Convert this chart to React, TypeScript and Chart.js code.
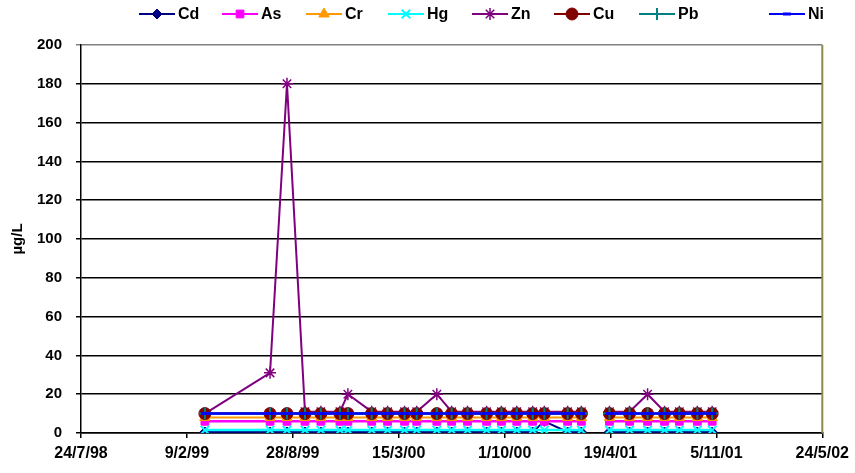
import React, { useEffect, useRef } from "react";
import { Chart, registerables } from "chart.js";
import { drawPoint } from "chart.js/helpers";

Chart.register(...registerables);

// ---- Data ----
const sampleDates = [
  "1999-03-15", "1999-07-16", "1999-08-17", "1999-09-20", "1999-10-20", "1999-11-25", "1999-12-10",
  "2000-01-24", "2000-02-23", "2000-03-26", "2000-04-18", "2000-05-26", "2000-06-23", "2000-07-23",
  "2000-08-28", "2000-09-25", "2000-10-24", "2000-11-23", "2000-12-15", "2001-01-28", "2001-02-23",
  "2001-03-20",
  "2001-04-17", "2001-05-25", "2001-06-28", "2001-07-30", "2001-08-27", "2001-09-30", "2001-10-28",
];

const cdValues = [0.5, 0.5, 0.5, 0.5, 0.5, 0.5, 0.5, 0.5, 0.5, 0.5, 0.5, 0.5, 0.5, 0.5, 0.5, 0.5, 0.5, 0.5, 6, 0.5, 0.5, null, 0.5, 0.5, 0.5, 0.5, 0.5, 0.5, 0.5];
const asValues = [6, 6, 6, 6, 6, 6, 6, 6, 6, 6, 6, 6, 6, 6, 6, 6, 6, 6, 6, 6, 6, null, 6, 6, 6, 6, 6, 6, 6];
const crValues = [8, 8, 8, 8, 8, 8, 8, 8, 8, 8, 8, 8, 8, 8, 8, 8, 8, 8, 8, 8, 8, null, 8, 8, 8, 8, 8, 8, 8];
const hgValues = [1.5, 1.5, 1.5, 1.5, 1.5, 1.5, 1.5, 1.5, 1.5, 1.5, 1.5, 1.5, 1.5, 1.5, 1.5, 1.5, 1.5, 1.5, 1.5, 1.5, 1.5, null, 1.5, 1.5, 1.5, 1.5, 1.5, 1.5, 1.5];
const znValues = [10, 31, 180, 11, 11, 11, 20, 11, 11, 11, 11, 20, 11, 11, 11, 11, 11, 11, 11, 11, 11, null, 11, 11, 20, 11, 11, 11, 11];
const cuValues = [10, 10, 10, 10, 10, 10, 10, 10, 10, 10, 10, 10, 10, 10, 10, 10, 10, 10, 10, 10, 10, null, 10, 10, 10, 10, 10, 10, 10];
const pbValues = [10, 10, 10, 10, 10, 10, 10, 10, 10, 10, 10, 10, 10, 10, 10, 10, 10, 10, 10, 10, 10, null, 10, 10, 10, 10, 10, 10, 10];
const niValues = [10, 10, 10, 10, 10, 10, 10, 10, 10, 10, 10, 10, 10, 10, 10, 10, 10, 10, 10, 10, 10, null, 10, 10, 10, 10, 10, 10, 10];

const seriesNames = ["Cd", "As", "Cr", "Hg", "Zn", "Cu", "Pb", "Ni"];
const xAxisStart = "1998-07-24";
const xAxisEnd = "2002-05-24";
const xTickStepDays = 200;
const yMin = 0;
const yMax = 200;
const yStep = 20;
const yTitle = "µg/L";

// ---- Helpers ----
const dayNum = (s: string) => {
  const [y, m, d] = s.split("-").map(Number);
  return Date.UTC(y, m - 1, d) / 86400000;
};
const fmtDay = (v: number) => {
  const dt = new Date(Math.round(v) * 86400000);
  return `${dt.getUTCDate()}/${dt.getUTCMonth() + 1}/${String(dt.getUTCFullYear() % 100).padStart(2, "0")}`;
};

const FONT = "'Liberation Sans', Arial, sans-serif";

const styles = [
  { color: "#000080", pointStyle: "rectRot", radius: 5, bw: 1, lw: 2 },
  { color: "#FF00FF", pointStyle: "rect", radius: 5.5, bw: 1, lw: 2.5 },
  { color: "#FF9900", pointStyle: "triangle", radius: 6, bw: 1, lw: 2 },
  { color: "#00FFFF", pointStyle: "crossRot", radius: 6, bw: 2, lw: 2.5 },
  { color: "#800080", pointStyle: "star", radius: 6, bw: 1.5, lw: 2 },
  { color: "#800000", pointStyle: "circle", radius: 6, bw: 1, lw: 2 },
  { color: "#008080", pointStyle: "cross", radius: 6, bw: 2, lw: 2 },
  { color: "#0000FF", pointStyle: "line", radius: 4, bw: 3, lw: 2.5 },
];

const legendCenters = [157, 240, 324, 406, 490, 572, 657, 787];

export default function App() {
  const ref = useRef<HTMLCanvasElement>(null);

  useEffect(() => {
    document.body.style.margin = "0";
    const canvas = ref.current!;
    const allValues = [cdValues, asValues, crValues, hgValues, znValues, cuValues, pbValues, niValues];
    const xs = sampleDates.map(dayNum);

    const datasets = seriesNames.map((name, i) => {
      const st = styles[i];
      return {
        label: name,
        data: xs.map((x, j) => ({ x, y: allValues[i][j] })),
        borderColor: st.color,
        backgroundColor: st.color,
        pointBackgroundColor: st.color,
        pointBorderColor: st.color,
        pointBorderWidth: st.bw,
        pointStyle: st.pointStyle,
        pointRadius: st.radius,
        borderWidth: st.lw,
        spanGaps: false,
        order: seriesNames.length - 1 - i,
      };
    });

    const legendPlugin = {
      id: "excelLegend",
      afterDraw(chart: any) {
        const c = chart.ctx;
        c.save();
        const y = 14;
        datasets.forEach((ds: any, i: number) => {
          const cx = legendCenters[i];
          c.strokeStyle = ds.borderColor;
          c.lineWidth = 2;
          c.beginPath();
          c.moveTo(cx - 18, y);
          c.lineTo(cx + 18, y);
          c.stroke();
          c.fillStyle = ds.pointBackgroundColor;
          c.strokeStyle = ds.pointBorderColor;
          c.lineWidth = ds.pointBorderWidth;
          drawPoint(c, { pointStyle: ds.pointStyle, radius: ds.pointRadius, rotation: 0, borderWidth: ds.pointBorderWidth }, cx, y);
          c.fillStyle = "#000";
          c.font = `bold 16px ${FONT}`;
          c.textBaseline = "middle";
          c.textAlign = "left";
          c.fillText(ds.label, cx + 21, y + 1);
        });
        c.restore();
      },
    };

    const borderPlugin = {
      id: "plotBorder",
      afterDraw(chart: any) {
        const { ctx, chartArea } = chart;
        ctx.save();
        ctx.strokeStyle = "#8a8a4a";
        ctx.lineWidth = 2;
        ctx.beginPath();
        ctx.moveTo(chartArea.right, chartArea.top);
        ctx.lineTo(chartArea.right, chartArea.bottom);
        ctx.stroke();
        ctx.restore();
      },
    };

    const chart = new Chart(canvas, {
      type: "line",
      data: { datasets: datasets as any },
      options: {
        animation: false,
        responsive: false,
        devicePixelRatio: 1,
        layout: { padding: { top: 45, right: 32, bottom: 0, left: 0 } },
        elements: { line: { tension: 0 } },
        plugins: { legend: { display: false }, tooltip: { enabled: false } },
        scales: {
          x: {
            type: "linear",
            min: dayNum(xAxisStart),
            max: dayNum(xAxisEnd),
            afterFit: (s: any) => { s.height = 40; },
            ticks: {
              stepSize: xTickStepDays,
              autoSkip: false,
              maxRotation: 0,
              padding: 6,
              color: "#000",
              font: { family: FONT, size: 16, weight: "bold" },
              callback: (v: any) => fmtDay(Number(v)),
            },
            grid: { drawOnChartArea: false, color: "#000", tickLength: 5, lineWidth: 1.5 },
            border: { color: "#000", width: 1.5 },
          },
          y: {
            min: yMin,
            max: yMax,
            afterFit: (s: any) => { s.width = 81; },
            ticks: {
              stepSize: yStep,
              padding: 14,
              color: "#000",
              font: { family: FONT, size: 15, weight: "bold" },
            },
            grid: {
              color: (ctx: any) => (ctx.tick && ctx.tick.value === yMax ? "#808080" : "#000"),
              lineWidth: 1.5,
              tickLength: 5,
            },
            border: { color: "#000", width: 1.5 },
            title: {
              display: true,
              text: yTitle,
              color: "#000",
              font: { family: FONT, size: 15, weight: "bold" },
              padding: { top: 9, bottom: 0 },
            },
          },
        },
      },
      plugins: [legendPlugin, borderPlugin],
    });

    return () => chart.destroy();
  }, []);

  return (
    <div style={{ width: 855, height: 473, overflow: "hidden" }}>
      <canvas ref={ref} width={855} height={473} style={{ display: "block" }} />
    </div>
  );
}
